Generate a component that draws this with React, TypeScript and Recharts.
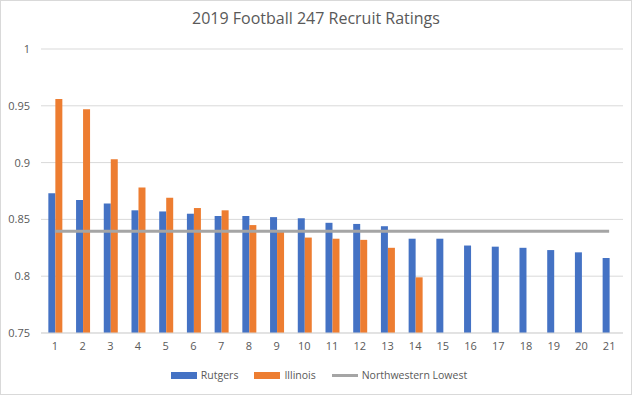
import React from "react";
import {
  ComposedChart,
  CartesianGrid,
  XAxis,
  YAxis,
  Legend,
  Bar,
  Line,
} from "recharts";

const recruits = ["1", "2", "3", "4", "5", "6", "7", "8", "9", "10", "11", "12", "13", "14", "15", "16", "17", "18", "19", "20", "21"];
const rutgers = [0.873, 0.867, 0.864, 0.858, 0.857, 0.855, 0.853, 0.853, 0.852, 0.851, 0.847, 0.846, 0.844, 0.833, 0.833, 0.827, 0.826, 0.825, 0.823, 0.821, 0.816];
const illinois = [0.956, 0.947, 0.903, 0.878, 0.869, 0.86, 0.858, 0.845, 0.839, 0.834, 0.833, 0.832, 0.825, 0.799];
const northwesternLowest = 0.8395;
const yTicks = [0.75, 0.8, 0.85, 0.9, 0.95, 1];

const FONT = "'Open Sans', sans-serif";

const legendItems = [
  { name: "Rutgers", color: "#4472C4", type: "bar" },
  { name: "Illinois", color: "#ED7D31", type: "bar" },
  { name: "Northwestern Lowest", color: "#A5A5A5", type: "line" },
];

function LegendContent() {
  return (
    <div
      style={{
        display: "flex",
        justifyContent: "center",
        alignItems: "center",
        fontFamily: FONT,
        fontSize: 10.5,
        color: "#595959",
        paddingTop: 5,
        paddingLeft: 14,
      }}
    >
      {legendItems.map((it, i) => (
        <div
          key={it.name}
          style={{ display: "flex", alignItems: "center", marginRight: i < legendItems.length - 1 ? 16 : 0 }}
        >
          <span
            style={{
              display: "inline-block",
              width: 26,
              height: it.type === "bar" ? 7 : 3,
              background: it.color,
              marginRight: 4,
            }}
          />
          <span>{it.name}</span>
        </div>
      ))}
    </div>
  );
}

function App() {
  const data = recruits.map((name, i) => ({
    name,
    rutgers: rutgers[i],
    illinois: i < illinois.length ? illinois[i] : null,
    northwestern: northwesternLowest,
  }));

  return (
    <div
      style={{
        position: "absolute",
        left: 0,
        top: 0,
        width: 632,
        height: 395,
        border: "1px solid #d9d9d9",
        boxSizing: "border-box",
        background: "#fff",
      }}
    >
      <div
        style={{
          position: "absolute",
          top: 6,
          left: 0,
          width: "100%",
          textAlign: "center",
          fontFamily: FONT,
          fontSize: 16,
          color: "#595959",
        }}
      >
        2019 Football 247 Recruit Ratings
      </div>
      <ComposedChart
        width={630}
        height={393}
        data={data}
        margin={{ top: 48, right: 8, bottom: 0, left: 0 }}
        barCategoryGap="26.5%"
        barGap={0}
      >
        <CartesianGrid vertical={false} stroke="#d9d9d9" />
        <XAxis
          dataKey="name"
          type="category"
          height={30}
          tickLine={false}
          tickMargin={3}
          axisLine={{ stroke: "#d9d9d9" }}
          tick={{ fill: "#595959", fontSize: 11, fontFamily: FONT }}
        />
        <YAxis
          type="number"
          domain={[0.75, 1]}
          ticks={yTicks}
          width={40}
          axisLine={false}
          tickLine={false}
          tickMargin={5}
          tick={{ fill: "#595959", fontSize: 11, fontFamily: FONT }}
        />
        <Legend verticalAlign="bottom" height={31} content={<LegendContent />} />
        <Bar dataKey="rutgers" name="Rutgers" fill="#4472C4" isAnimationActive={false} />
        <Bar dataKey="illinois" name="Illinois" fill="#ED7D31" isAnimationActive={false} />
        <Line
          dataKey="northwestern"
          name="Northwestern Lowest"
          stroke="#A5A5A5"
          strokeWidth={3}
          dot={false}
          activeDot={false}
          isAnimationActive={false}
        />
      </ComposedChart>
    </div>
  );
}

export default App;
